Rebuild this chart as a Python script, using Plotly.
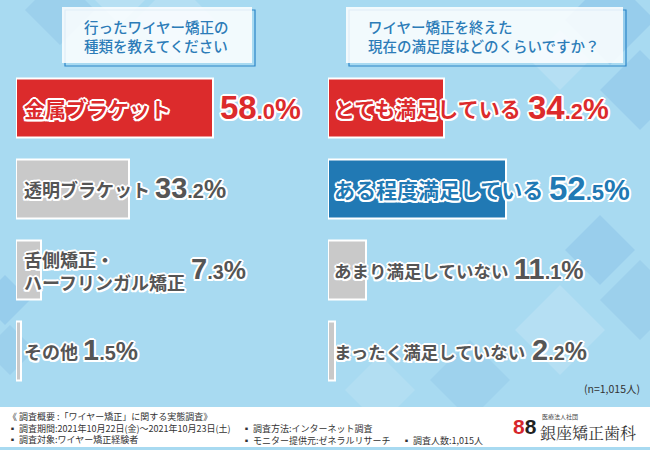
import plotly.graph_objects as go

# データ
left_title = "行ったワイヤー矯正の<br>種類を教えてください"
left_labels = ["金属ブラケット", "透明ブラケット", "舌側矯正・<br>ハーフリンガル矯正", "その他"]
left_values = [58.0, 33.2, 7.3, 1.5]

right_title = "ワイヤー矯正を終えた<br>現在の満足度はどのくらいですか？"
right_labels = ["とても満足している", "ある程度満足している", "あまり満足していない", "まったく満足していない"]
right_values = [34.2, 52.5, 11.1, 2.2]

footer_col1 = [
    "《 調査概要 :「ワイヤー矯正」に関する実態調査》",
    "▪ 調査期間:2021年10月22日(金)～2021年10月23日(土)",
    "▪ 調査対象:ワイヤー矯正経験者",
]
footer_col2 = ["▪ 調査方法:インターネット調査", "▪ モニター提供元:ゼネラルリサーチ"]
footer_col3 = ["▪ 調査人数:1,015人"]
n_note = "(n=1,015人)"

RED = "#DC2B2C"
BLUE = "#2179B4"
GRAY_BAR = "#C9C9C9"
GRAY_TXT = "#555555"
BG = "#A8DAF1"
TITLE_C = "#2C7CB8"

W, H = 650, 450
PX_PER_PCT = 3.39
JP = "Noto Sans CJK JP"
NUM = "Liberation Sans, Arial, sans-serif"
OUTLINE = ("2px 0 0 #fff, -2px 0 0 #fff, 0 2px 0 #fff, 0 -2px 0 #fff, "
           "1.5px 1.5px 0 #fff, -1.5px -1.5px 0 #fff, 1.5px -1.5px 0 #fff, -1.5px 1.5px 0 #fff")


def px(x):
    return x / W


def py(y):
    return 1 - y / H


def pct_text(v, big, small):
    s = f"{v:.1f}"
    a, b = s.split(".")
    return (f"<span style='font-size:{big}px'>{a}</span>"
            f"<span style='font-size:{small}px'>.{b}</span>"
            f"<span style='font-size:{big - 4}px'>%</span>")


fig = go.Figure()

panels = [
    ("x", "y", left_labels, left_values, [RED, GRAY_BAR, GRAY_BAR, GRAY_BAR],
     [RED, GRAY_TXT, GRAY_TXT, GRAY_TXT], [21, 18, 18, 18], 6),
    ("x2", "y2", right_labels, right_values, [RED, BLUE, GRAY_BAR, GRAY_BAR],
     [RED, BLUE, GRAY_TXT, GRAY_TXT], [21, 21, 17.5, 17.5], 4),
]

annotations = []
for xa, ya, labels, values, bar_cols, txt_cols, sizes, shift in panels:
    fig.add_trace(go.Bar(
        x=values, y=list(range(len(values))), orientation="h",
        marker=dict(color=bar_cols, line=dict(color="white", width=2)),
        width=0.74, xaxis=xa, yaxis=ya, showlegend=False, hoverinfo="skip",
    ))
    for i, (lab, v) in enumerate(zip(labels, values)):
        fs = sizes[i]
        annotations.append(dict(
            xref=xa, yref=ya, x=0, y=i, xanchor="left", yanchor="middle",
            xshift=shift, text=lab, showarrow=False, align="left",
            font=dict(family=JP, size=fs, color=txt_cols[i], weight="bold", shadow=OUTLINE),
        ))
        # 数値ラベルは棒の端かカテゴリ名の後ろ、遠い方に置く
        nchar = max(len(part) for part in lab.split("<br>"))
        label_end = shift + nchar * fs
        bar_end = v * PX_PER_PCT
        big = 33 if fs > 20 else 29
        small = 22 if fs > 20 else 20
        annotations.append(dict(
            xref=xa, yref=ya, x=0, y=i, xanchor="left", yanchor="middle",
            xshift=max(label_end, bar_end) + 5, yshift=1,
            text=pct_text(v, big, small), showarrow=False,
            font=dict(family=NUM, size=big, color=txt_cols[i], weight="bold", shadow=OUTLINE),
        ))

# 背景の菱形模様
shapes = []
diamonds = [
    (120, -20, 45, "rgba(255,255,255,0.18)"),
    (175, 20, 40, "rgba(255,255,255,0.15)"),
    (60, 10, 35, "rgba(120,180,225,0.25)"),
    (610, 20, 45, "rgba(120,180,225,0.35)"),
    (640, 90, 40, "rgba(120,180,225,0.30)"),
    (560, 60, 30, "rgba(255,255,255,0.15)"),
    (600, 250, 35, "rgba(120,180,225,0.30)"),
    (640, 300, 40, "rgba(120,180,225,0.25)"),
    (560, 330, 45, "rgba(255,255,255,0.15)"),
    (470, 380, 40, "rgba(120,180,225,0.20)"),
    (380, 390, 35, "rgba(255,255,255,0.12)"),
    (5, 300, 25, "rgba(120,180,225,0.35)"),
    (10, 350, 25, "rgba(120,180,225,0.25)"),
]
for cx, cy, r, col in diamonds:
    shapes.append(dict(
        type="path", xref="paper", yref="paper", layer="below", line_width=0, fillcolor=col,
        path=f"M {px(cx)} {py(cy - r)} L {px(cx + r)} {py(cy)} L {px(cx)} {py(cy + r)} L {px(cx - r)} {py(cy)} Z",
    ))

# タイトルボックス
for (x0, x1), title in [((62, 252), left_title), ((346, 623), right_title)]:
    shapes.append(dict(type="rect", xref="paper", yref="paper", layer="below",
                       x0=px(x0 + 3), x1=px(x1 + 3), y0=py(66), y1=py(10),
                       line=dict(color="#2C86C8", width=1.2), fillcolor="rgba(0,0,0,0)"))
    shapes.append(dict(type="rect", xref="paper", yref="paper", layer="below",
                       x0=px(x0), x1=px(x1), y0=py(63), y1=py(7),
                       line_width=0, fillcolor="rgba(255,255,255,0.85)"))
    annotations.append(dict(
        xref="paper", yref="paper", x=px(x0 + 20), y=py(36), xanchor="left", yanchor="middle",
        text=title, showarrow=False, align="left",
        font=dict(family=JP, size=14.5, color=TITLE_C, weight=500),
    ))

# フッター
shapes.append(dict(type="rect", xref="paper", yref="paper", layer="below",
                   x0=0, x1=1, y0=py(447), y1=py(407), line_width=0, fillcolor="white"))
foot_font = dict(family=JP, size=9, color="#333333")
annotations.append(dict(xref="paper", yref="paper", x=px(6), y=py(408), xanchor="left", yanchor="top",
                        text="<br>".join(footer_col1), showarrow=False, align="left", font=foot_font))
annotations.append(dict(xref="paper", yref="paper", x=px(240), y=py(420), xanchor="left", yanchor="top",
                        text="<br>".join(footer_col2), showarrow=False, align="left", font=foot_font))
annotations.append(dict(xref="paper", yref="paper", x=px(400), y=py(432), xanchor="left", yanchor="top",
                        text="<br>".join(footer_col3), showarrow=False, align="left", font=foot_font))

annotations.append(dict(
    xref="paper", yref="paper", x=px(642), y=py(388), xanchor="right", yanchor="middle",
    text=n_note, showarrow=False, font=dict(family=JP, size=10.5, color="#333333"),
))

# ロゴ
annotations.append(dict(
    xref="paper", yref="paper", x=px(511), y=py(426), xanchor="left", yanchor="middle",
    text="<span style='color:#D6262B'>8</span><span style='color:#222'>8</span>",
    showarrow=False, font=dict(family=NUM, size=21, weight="bold"),
))
annotations.append(dict(
    xref="paper", yref="paper", x=px(540), y=py(416), xanchor="left", yanchor="middle",
    text="医療法人社団", showarrow=False, font=dict(family=JP, size=6, color="#444"),
))
annotations.append(dict(
    xref="paper", yref="paper", x=px(538), y=py(432), xanchor="left", yanchor="middle",
    text="銀座矯正歯科", showarrow=False, font=dict(family="Noto Serif CJK JP, " + JP, size=16, color="#333"),
))

ydom = [py(391.5), py(67.5)]
fig.update_layout(
    width=W, height=H, margin=dict(l=0, r=0, t=0, b=0),
    paper_bgcolor=BG, plot_bgcolor="rgba(0,0,0,0)",
    xaxis=dict(domain=[px(16), px(325)], range=[0, 309 / PX_PER_PCT], visible=False, fixedrange=True),
    yaxis=dict(domain=ydom, range=[3.5, -0.5], visible=False, fixedrange=True),
    xaxis2=dict(domain=[px(328), 1], range=[0, 322 / PX_PER_PCT], visible=False, anchor="y2", fixedrange=True),
    yaxis2=dict(domain=ydom, range=[3.5, -0.5], visible=False, anchor="x2", fixedrange=True),
    shapes=shapes, annotations=annotations, bargap=0,
)

fig.write_html("out.html", config={"displayModeBar": False},
               post_script="document.body.style.margin='0';")
